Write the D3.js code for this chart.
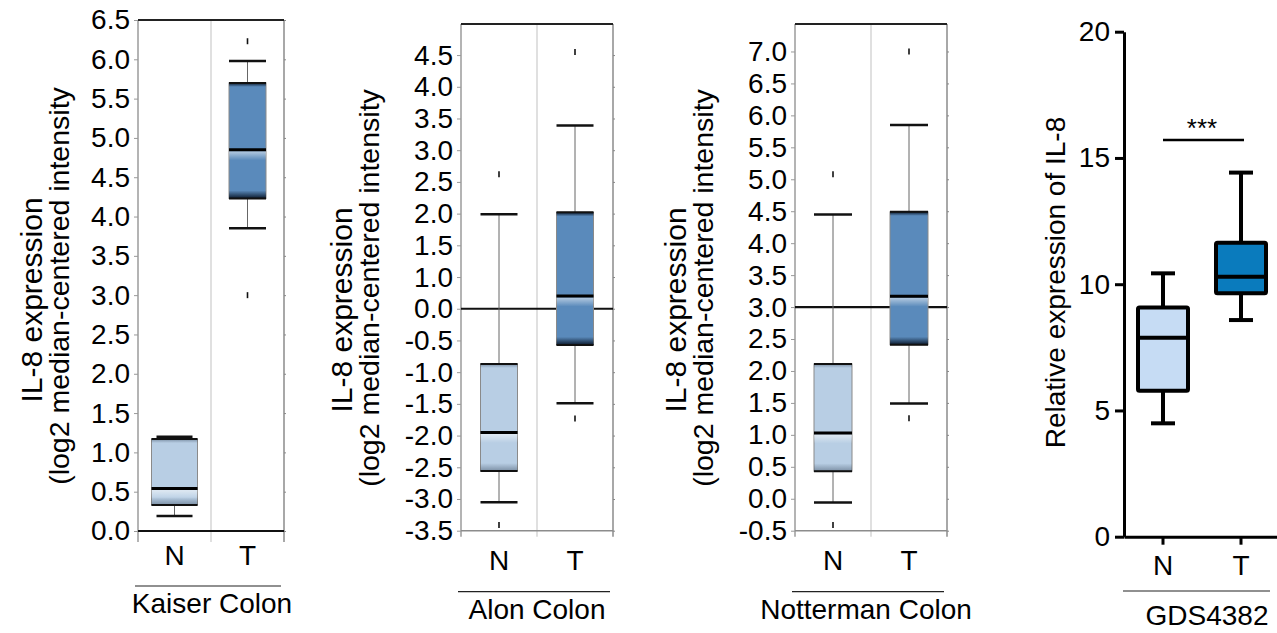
<!DOCTYPE html>
<html>
<head>
<meta charset="utf-8">
<script src="https://cdn.jsdelivr.net/npm/d3@7"></script>
<style>
body { margin: 0; background: #fff; }
text { font-family: "Liberation Sans", Arial, sans-serif; fill: #000; }
</style>
</head>
<body>
<svg id="chart" width="1277" height="633"></svg>
<script>
var groups = ["N", "T"];

// box stats per group: [whisker low, q1, median, q3, whisker high]
var kaiserStats = [[0.19, 0.33, 0.54, 1.17, 1.20], [3.85, 4.23, 4.85, 5.70, 5.98]];
var kaiserOutliers = [[], [3.00, 6.23]];
var kaiserTicks = ["0.0", "0.5", "1.0", "1.5", "2.0", "2.5", "3.0", "3.5", "4.0", "4.5", "5.0", "5.5", "6.0", "6.5"];

var alonStats = [[-3.05, -2.56, -1.95, -0.87, 1.49], [-1.49, -0.57, 0.20, 1.52, 2.89]];
var alonOutliers = [[-3.41, 2.12], [-1.73, 4.05]];
var alonTicks = ["-3.5", "-3.0", "-2.5", "-2.0", "-1.5", "-1.0", "-0.5", "0.0", "1.0", "1.5", "2.0", "2.5", "3.0", "3.5", "4.0", "4.5"];

var nottermanStats = [[-0.06, 0.43, 1.03, 2.11, 4.45], [1.49, 2.41, 3.17, 4.49, 5.85]];
var nottermanOutliers = [[-0.41, 5.08], [1.26, 7.00]];
var nottermanTicks = ["-0.5", "0.0", "0.5", "1.0", "1.5", "2.0", "2.5", "3.0", "3.5", "4.0", "4.5", "5.0", "5.5", "6.0", "6.5", "7.0"];

var gdsStats = [[4.49, 5.78, 7.88, 9.08, 10.43], [8.58, 9.64, 10.30, 11.64, 14.42]];
var gdsTicks = [0, 5, 10, 15, 20];

var svg = d3.select("#chart");
var fontSize = 28;

/* gradients for the oncomine style boxes */
var defs = svg.append("defs");
function grad(id, stops) {
	var lg = defs.append("linearGradient").attr("id", id)
		.attr("x1", 0).attr("y1", 0).attr("x2", 0).attr("y2", 1);
	stops.forEach(function(s) {
		lg.append("stop").attr("offset", s[0]).attr("stop-color", s[1]).attr("stop-opacity", s[2]);
	});
}
grad("topShade", [[0, "#0b1a2e", 1], [1, "#0b1a2e", 0]]);
grad("botShade", [[0, "#0b1a2e", 0], [1, "#0b1a2e", 1]]);
grad("hiShade", [[0, "#ffffff", 0.55], [1, "#ffffff", 0]]);

var boxColors = {N: "#b8cee4", T: "#5a8abb"};

var oncomine = function(o) {
	var g = svg.append("g");
	var y = d3.scaleLinear().domain([o.min, o.max]).range([o.bottom, o.top]);
	var x = d3.scaleBand().domain(groups).range([o.left, o.right]);
	var tickVals = o.ticks.map(function(t, i) { return o.min + i * 0.5; });
	var yTop = y(o.max), yBot = y(o.min);

	/* frame */
	g.append("line").attr("x1", o.left).attr("x2", o.left).attr("y1", yTop).attr("y2", yBot + o.ext)
		.attr("stroke", "#b4b4b4").attr("stroke-width", 2);
	g.append("line").attr("x1", x("T")).attr("x2", x("T")).attr("y1", yTop).attr("y2", yBot + o.ext)
		.attr("stroke", "#d6d6d6").attr("stroke-width", 1.5);
	g.append("line").attr("x1", o.right).attr("x2", o.right).attr("y1", yTop).attr("y2", yBot + o.ext)
		.attr("stroke", "#a8a8a8").attr("stroke-width", 2);
	g.append("line").attr("x1", o.left).attr("x2", o.right).attr("y1", yTop).attr("y2", yTop)
		.attr("stroke", "#222").attr("stroke-width", 2);
	if (o.ref !== o.min) {
		g.append("line").attr("x1", o.left).attr("x2", o.right).attr("y1", yBot).attr("y2", yBot)
			.attr("stroke", "#8c8c8c").attr("stroke-width", 1.5);
	}
	g.append("line").attr("x1", o.left).attr("x2", o.right).attr("y1", y(o.ref)).attr("y2", y(o.ref))
		.attr("stroke", "#111").attr("stroke-width", 2.2);

	/* axes */
	var yAxis = d3.axisLeft(y).tickValues(tickVals)
		.tickFormat(function(d, i) { return o.ticks[i]; })
		.tickSize(4).tickPadding(4);
	var ax = g.append("g").attr("transform", "translate(" + o.left + ",0)").call(yAxis);
	ax.select(".domain").remove();
	ax.selectAll("line").attr("stroke", "#999");
	ax.selectAll("text").style("font-size", fontSize + "px").style("font-family", "Liberation Sans, Arial, sans-serif");
	var rAxis = d3.axisRight(y).tickValues(tickVals).tickFormat("").tickSize(2);
	var rx = g.append("g").attr("transform", "translate(" + o.right + ",0)").call(rAxis);
	rx.select(".domain").remove();
	rx.selectAll("line").attr("stroke", "#888");

	/* boxes */
	groups.forEach(function(grp, i) {
		var s = o.stats[i], cx = x(grp) + x.bandwidth() / 2, w = o.boxW[i];
		// whiskers
		g.append("line").attr("x1", cx).attr("x2", cx).attr("y1", y(s[4])).attr("y2", y(s[0]))
			.attr("stroke", "#666").attr("stroke-width", 1);
		var bx = g.append("g");
		bx.append("rect").attr("x", cx - w / 2).attr("width", w)
			.attr("y", y(s[3])).attr("height", y(s[1]) - y(s[3]))
			.attr("fill", boxColors[grp]).attr("stroke", "#8a8a8a").attr("stroke-width", 1);
		var shade = grp === "T" ? 1 : 0.35;
		bx.append("rect").attr("x", cx - w / 2).attr("width", w)
			.attr("y", y(s[3])).attr("height", 4).attr("fill", "url(#topShade)").attr("opacity", shade);
		bx.append("rect").attr("x", cx - w / 2).attr("width", w)
			.attr("y", y(s[1]) - 8).attr("height", 8).attr("fill", "url(#botShade)").attr("opacity", shade);
		bx.append("rect").attr("x", cx - w / 2).attr("width", w)
			.attr("y", y(s[2]) + 1.5).attr("height", 9).attr("fill", "url(#hiShade)");
		[s[3], s[1]].forEach(function(v) {
			bx.append("line").attr("x1", cx - w / 2).attr("x2", cx + w / 2).attr("y1", y(v)).attr("y2", y(v))
				.attr("stroke", "#111").attr("stroke-width", 2);
		});
		bx.append("line").attr("x1", cx - w / 2).attr("x2", cx + w / 2).attr("y1", y(s[2])).attr("y2", y(s[2]))
			.attr("stroke", "#000").attr("stroke-width", 3);
		// caps
		[s[0], s[4]].forEach(function(v) {
			g.append("line").attr("x1", cx - o.capW[i] / 2).attr("x2", cx + o.capW[i] / 2)
				.attr("y1", y(v)).attr("y2", y(v)).attr("stroke", "#111").attr("stroke-width", 2.5);
		});
		// outliers
		g.selectAll(null).data(o.outliers[i]).enter().append("line")
			.attr("x1", cx).attr("x2", cx)
			.attr("y1", function(d) { return y(d) - 3; })
			.attr("y2", function(d) { return y(d) + 3; })
			.attr("stroke", "#111").attr("stroke-width", 1.6);
		// group label
		g.append("text").attr("x", cx).attr("y", o.labelY).attr("text-anchor", "middle")
			.style("font-size", fontSize + "px").text(grp);
	});

	/* dataset name */
	g.append("line").attr("x1", o.left - 3).attr("x2", o.right - 3).attr("y1", o.lineY).attr("y2", o.lineY)
		.attr("stroke", "#222").attr("stroke-width", 1.2);
	g.append("text").attr("x", x("T") + o.nameDx).attr("y", o.lineY + 27).attr("text-anchor", "middle")
		.style("font-size", fontSize + "px").text(o.name);

	/* y title */
	g.append("text").attr("transform", "translate(" + (o.left - o.t1) + "," + o.c1 + ") rotate(-90)")
		.attr("text-anchor", "middle").style("font-size", "30px").text("IL-8 expression");
	g.append("text").attr("transform", "translate(" + (o.left - o.t2) + "," + o.c2 + ") rotate(-90)")
		.attr("text-anchor", "middle").style("font-size", "28.5px").text("(log2 median-centered intensity");
};

oncomine({name: "Kaiser Colon", stats: kaiserStats, outliers: kaiserOutliers, ticks: kaiserTicks,
	min: 0, max: 6.5, ref: 0, left: 138, right: 284, top: 20, bottom: 531, ext: 11,
	boxW: [46, 37], capW: [36, 37], labelY: 565, lineY: 586, nameDx: 1,
	t1: 96, c1: 300, t2: 69, c2: 286});

oncomine({name: "Alon Colon", stats: alonStats, outliers: alonOutliers, ticks: alonTicks,
	min: -3.5, max: 4.49, ref: 0, left: 461, right: 613, top: 24, bottom: 530.7, ext: 6,
	boxW: [37, 37], capW: [37, 37], labelY: 570, lineY: 591.7, nameDx: 0,
	t1: 109, c1: 310, t2: 82, c2: 288});

oncomine({name: "Notterman Colon", stats: nottermanStats, outliers: nottermanOutliers, ticks: nottermanTicks,
	min: -0.5, max: 7.43, ref: 3.0, left: 795, right: 947, top: 24, bottom: 530.7, ext: 6,
	boxW: [38, 38], capW: [38, 38], labelY: 570, lineY: 591.7, nameDx: -5,
	t1: 109, c1: 310, t2: 82, c2: 288});

/* GDS4382 panel */
var gds = function() {
	var g = svg.append("g");
	var y = d3.scaleLinear().domain([0, 20]).range([536.7, 31.7]);
	var x = d3.scaleBand().domain(groups).range([1124, 1280]);
	var colors = {N: "#c6dcf4", T: "#0a7bbd"};

	var yAxis = d3.axisLeft(y).tickValues(gdsTicks).tickSize(9).tickSizeOuter(0).tickPadding(5);
	var ax = g.append("g").attr("transform", "translate(1124,0)").call(yAxis);
	ax.selectAll("path, line").attr("stroke", "#000").attr("stroke-width", 3);
	ax.selectAll("text").style("font-size", fontSize + "px").style("font-family", "Liberation Sans, Arial, sans-serif");

	var xAxis = d3.axisBottom(x).tickSize(8).tickSizeOuter(0).tickPadding(10);
	var bx = g.append("g").attr("transform", "translate(0,536.7)").call(xAxis);
	bx.selectAll("path, line").attr("stroke", "#000").attr("stroke-width", 3);
	bx.selectAll("text").style("font-size", fontSize + "px").style("font-family", "Liberation Sans, Arial, sans-serif");

	groups.forEach(function(grp, i) {
		var s = gdsStats[i], cx = x(grp) + x.bandwidth() / 2, w = 50, cap = 24;
		g.append("line").attr("x1", cx).attr("x2", cx).attr("y1", y(s[4])).attr("y2", y(s[0]))
			.attr("stroke", "#000").attr("stroke-width", 4);
		[s[0], s[4]].forEach(function(v) {
			g.append("line").attr("x1", cx - cap / 2).attr("x2", cx + cap / 2).attr("y1", y(v)).attr("y2", y(v))
				.attr("stroke", "#000").attr("stroke-width", 4);
		});
		g.append("rect").attr("x", cx - w / 2).attr("width", w)
			.attr("y", y(s[3])).attr("height", y(s[1]) - y(s[3]))
			.attr("fill", colors[grp]).attr("stroke", "#000").attr("stroke-width", 4)
			.attr("rx", 1.5);
		g.append("line").attr("x1", cx - w / 2).attr("x2", cx + w / 2).attr("y1", y(s[2])).attr("y2", y(s[2]))
			.attr("stroke", "#000").attr("stroke-width", 4);
	});

	/* significance bar */
	var xa = x("N") + x.bandwidth() / 2, xb = x("T") + x.bandwidth() / 2;
	g.append("line").attr("x1", xa).attr("x2", xb + 3).attr("y1", y(15.71)).attr("y2", y(15.71))
		.attr("stroke", "#000").attr("stroke-width", 2.5);
	g.append("text").attr("x", (xa + xb) / 2).attr("y", y(15.71) - 3).attr("text-anchor", "middle")
		.style("font-size", "26px").text("***");

	g.append("line").attr("x1", 1123).attr("x2", 1270).attr("y1", 591).attr("y2", 591)
		.attr("stroke", "#222").attr("stroke-width", 1.2);
	g.append("text").attr("x", 1207).attr("y", 625).attr("text-anchor", "middle")
		.style("font-size", fontSize + "px").text("GDS4382");

	g.append("text").attr("transform", "translate(1065,282.5) rotate(-90)")
		.attr("text-anchor", "middle").style("font-size", fontSize + "px").text("Relative expression of IL-8");
};
gds();
</script>
</body>
</html>
